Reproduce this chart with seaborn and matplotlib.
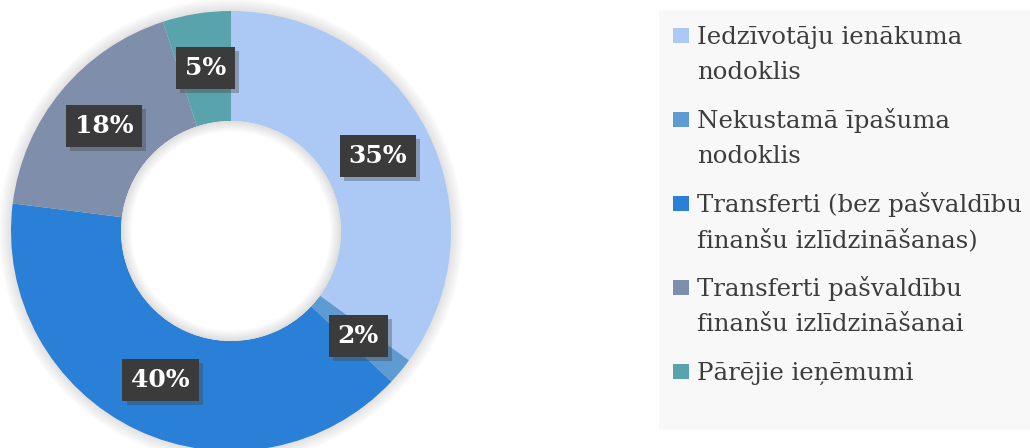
import matplotlib
matplotlib.use("Agg")
import matplotlib.pyplot as plt
import matplotlib.patheffects as pe
import seaborn as sns
import numpy as np
from matplotlib.patches import Circle, Wedge, Rectangle

# data
categories = ["Iedzīvotāju ienākuma\nnodoklis",
              "Nekustamā īpašuma\nnodoklis",
              "Transferti (bez pašvaldību\nfinanšu izlīdzināšanas)",
              "Transferti pašvaldību\nfinanšu izlīdzināšanai",
              "Pārējie ieņēmumi"]
shares = [35, 2, 40, 18, 5]
colors = ["#abc9f4", "#5e9bd2", "#2a7fd6", "#7f8eaa", "#59a3ad"]

sns.set_theme(style="white")
plt.rcParams['font.family'] = ['DejaVu Serif', 'DejaVu Sans']

W, H, dpi = 1030, 448, 100
fig = plt.figure(figsize=(W / dpi, H / dpi), dpi=dpi)
fig.patch.set_facecolor("white")

# pie axes covers the whole figure, 220 px per data unit
scale = 220.0
cx, cy = 231.0, 231.0
ax = fig.add_axes([0, 0, 1, 1])
ax.set_zorder(1)
ax.patch.set_alpha(0)

# soft outer shadow
for k in range(1, 10):
    ax.add_patch(Circle((0, 0), 1.0 + k * 0.006, color="#7a7a7a",
                        alpha=0.025, lw=0, zorder=0))

wedges, _ = ax.pie(shares, colors=colors, startangle=90, counterclock=False,
                   radius=1.0, wedgeprops=dict(width=0.5, linewidth=0))
for w in wedges:
    w.set_zorder(2)

# hole, with a faint inner shadow
ax.add_patch(Circle((0, 0), 0.5, color="white", lw=0, zorder=3))
for k in range(1, 9):
    ax.add_patch(Wedge((0, 0), 0.5, 0, 360, width=k * 0.006, color="#808080",
                       alpha=0.03, lw=0, zorder=3))

# data labels in dark boxes
start = 90.0
for v in shares:
    ang = np.deg2rad(start - v * 3.6 / 2)
    start -= v * 3.6
    x, y = 0.75 * np.cos(ang), 0.75 * np.sin(ang)
    t = ax.text(x, y, f"{v}%", fontsize=18, fontweight="bold", color="white",
                ha="center", va="center", zorder=5,
                bbox=dict(boxstyle="square,pad=0.36", fc="#3b3b3b", ec="none"))
    t.get_bbox_patch().set_path_effects(
        [pe.SimplePatchShadow(offset=(3, -3), shadow_rgbFace="#404040", alpha=0.35),
         pe.Normal()])

ax.set_xlim(-cx / scale, (W - cx) / scale)
ax.set_ylim(-(H - cy) / scale, cy / scale)
ax.set_aspect("equal", adjustable="box")
ax.axis("off")

# legend drawn in pixel coordinates
lg = fig.add_axes([0, 0, 1, 1])
lg.set_zorder(0)
lg.set_xlim(0, W)
lg.set_ylim(H, 0)
lg.axis("off")
lg.add_patch(Rectangle((659, 10), 371, 420, color="#f8f8f8", lw=0))
for i, (lab, col) in enumerate(zip(categories, colors)):
    base = 44 + 84 * i
    lg.add_patch(Rectangle((673, base - 16), 16, 15, color=col, lw=0))
    for j, line in enumerate(lab.split("\n")):
        lg.text(697, base + 35 * j, line, fontsize=17.6, color="#3d3d3d",
                ha="left", va="baseline")

fig.savefig("out.png", dpi=dpi)
